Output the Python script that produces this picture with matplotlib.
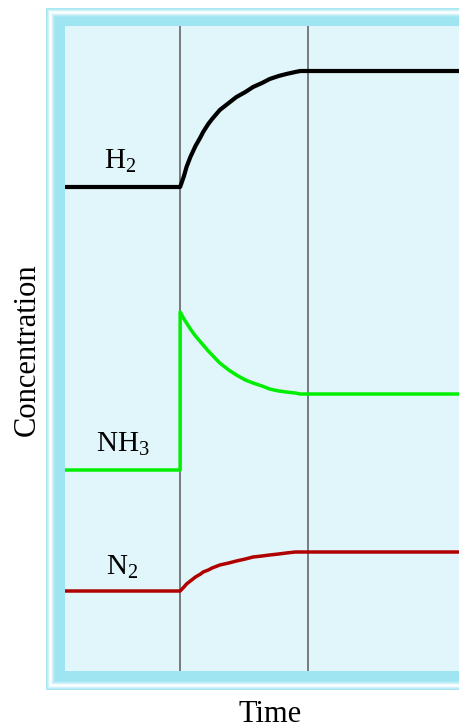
import matplotlib
matplotlib.use("Agg")
import matplotlib.pyplot as plt
from matplotlib.patches import Rectangle

plt.rcParams['font.family'] = ['Liberation Serif', 'DejaVu Serif']
plt.rcParams['mathtext.fontset'] = 'custom'
plt.rcParams['mathtext.rm'] = 'Liberation Serif'
plt.rcParams['mathtext.it'] = 'Liberation Serif:italic'

# Time axis: disturbance at t = 1, new equilibrium at t = 2
t_start, t_disturb, t_equil, t_end = 0.1, 1.0, 2.0, 3.18
t_shift = [1.00, 1.03, 1.05, 1.08, 1.12, 1.16, 1.18, 1.22, 1.25, 1.31,
           1.38, 1.44, 1.51, 1.57, 1.64, 1.70, 1.77, 1.83, 1.90, 1.94]

# Concentrations (arbitrary units)
h2_before = 4.84
h2_shift = [4.84, 4.95, 5.04, 5.14, 5.25, 5.34, 5.39, 5.47, 5.52, 5.61,
            5.68, 5.74, 5.79, 5.84, 5.88, 5.92, 5.95, 5.97, 5.99, 6.00]
h2_after = 6.00

nh3_before = 2.01
nh3_shift = [3.59, 3.52, 3.48, 3.42, 3.35, 3.29, 3.26, 3.20, 3.16, 3.08,
             3.01, 2.96, 2.91, 2.88, 2.85, 2.82, 2.80, 2.79, 2.78, 2.77]
nh3_after = 2.77

n2_before = 0.80
n2_shift = [0.80, 0.84, 0.87, 0.90, 0.94, 0.97, 0.99, 1.01, 1.03, 1.06,
            1.08, 1.10, 1.12, 1.14, 1.15, 1.16, 1.17, 1.18, 1.19, 1.19]
n2_after = 1.19

species = ['H$_2$', 'NH$_3$', 'N$_2$']
label_pos = [(0.53, 5.02), (0.55, 2.19), (0.55, 0.96)]

W, H = 459, 728
fig = plt.figure(figsize=(W / 100, H / 100), dpi=100)
fig.patch.set_facecolor('white')

# Bevelled frame drawn in figure pixel space
bg = fig.add_axes([0, 0, 1, 1])
bg.set_xlim(0, W)
bg.set_ylim(H, 0)
bg.axis('off')
frame_cols = ['#a8e7f2', '#b8ebf5', '#d0f2f8', '#eefafd', '#ffffff', '#f0fbfd',
              '#d4f3f9', '#bcedf6', '#aae8f3'] + ['#9ee4f1'] * 10
x0, y0, x1, y1 = 46, 8, 480, 690
for i, c in enumerate(frame_cols):
    bg.add_patch(Rectangle((x0 + i, y0 + i), (x1 - x0) - 2 * i, (y1 - y0) - 2 * i,
                           facecolor=c, edgecolor='none', antialiased=False))

ax = fig.add_axes([65 / W, (H - 671) / H, 1 - 65 / W, (671 - 26) / H])
ax.set_facecolor('#e0f6fa')
ax.set_xlim(t_start, t_end)
ax.set_ylim(0, 6.45)
for s in ax.spines.values():
    s.set_visible(False)
ax.set_xticks([])
ax.set_yticks([])

for tv in (t_disturb, t_equil):
    ax.axvline(tv, color='#707070', lw=1.3, zorder=1)

def series(before, shift, after):
    xs = [t_start, t_disturb] + t_shift + [t_equil, t_end]
    ys = [before, before] + shift + [after, after]
    return xs, ys

for (before, shift, after), col, lw in [
        ((h2_before, h2_shift, h2_after), '#000000', 3.0),
        ((nh3_before, nh3_shift, nh3_after), '#00ee00', 2.5),
        ((n2_before, n2_shift, n2_after), '#b00000', 2.5)]:
    xs, ys = series(before, shift, after)
    ax.plot(xs, ys, color=col, lw=lw, solid_joinstyle='round', zorder=3)

for name, (tx, ty) in zip(species, label_pos):
    ax.text(tx, ty, name, ha='center', va='baseline', fontsize=21, color='black')

fig.text(27 / W, 1 - 350 / H, 'Concentration', rotation=90, ha='center',
         va='center', fontsize=22)
fig.text(270 / W, 1 - 714 / H, 'Time', ha='center', va='center', fontsize=22)

fig.savefig('out.png', dpi=100)
